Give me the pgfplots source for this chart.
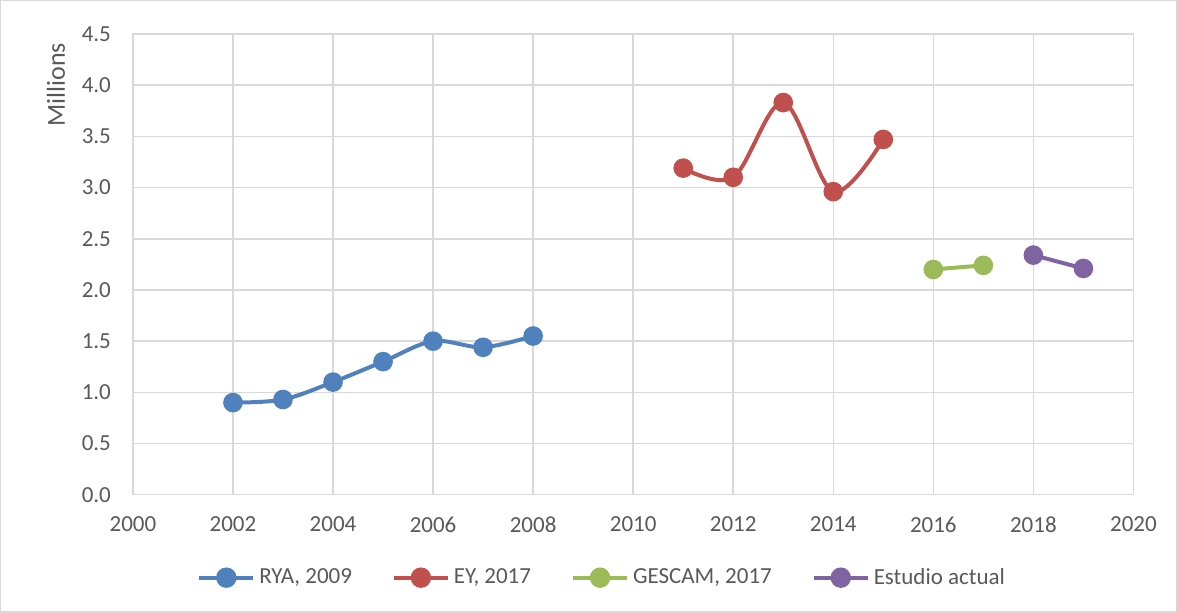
\documentclass[border=0pt]{standalone}
\usepackage{fontspec}
\setmainfont{Carlito}
\usepackage{pgfplots}
\pgfplotsset{compat=1.18}
\definecolor{cblue}{HTML}{4F81BD}
\definecolor{cred}{HTML}{C0504D}
\definecolor{cgreen}{HTML}{9BBB59}
\definecolor{cpurple}{HTML}{8064A2}
\definecolor{cgrid}{HTML}{D9D9D9}
\definecolor{ctext}{HTML}{595959}
\begin{document}
\begin{tikzpicture}
\begin{axis}[
  at={(0,0)}, anchor=origin,
  scale only axis, width=500.5pt, height=230.5pt,
  xmin=2000, xmax=2020, ymin=0, ymax=4.5,
  xtick={2000,2002,...,2020}, ytick={0,0.5,...,4.5},
  /pgf/number format/assume math mode=true,
  xticklabel style={/pgf/number format/1000 sep={}, font=\fontsize{11.5}{13}\selectfont, text=ctext, yshift=-7.5pt},
  yticklabel style={/pgf/number format/fixed, /pgf/number format/fixed zerofill, /pgf/number format/precision=1, font=\fontsize{11.5}{13}\selectfont, text=ctext, xshift=-7.5pt},
  major tick length=0pt,
  grid=major, grid style={cgrid, line width=0.75pt},
  axis line style={cgrid, line width=0.75pt},
  ylabel={Millions}, ylabel style={font=\fontsize{13}{15}\selectfont, text=ctext, at={(axis description cs:-0.077,0.89)}, anchor=center},
  legend columns=4,
  legend style={at={(axis description cs:0.47,-0.18)}, anchor=center, draw=none, font=\fontsize{11.5}{13}\selectfont, text=ctext,
    /tikz/every even column/.append style={column sep=18pt}, /tikz/every odd column/.append style={column sep=0pt},
    nodes={inner xsep=2pt}},
  legend image code/.code={\draw[#1, mark=none] (0pt,0pt) -- (27pt,0pt); \fill[#1] (13.5pt,0pt) circle (4.1pt);},
  every axis plot/.append style={line width=2pt, mark=*, mark size=3.9pt, smooth, tension=0.55},
]
\addplot[cblue, mark options={fill=cblue, draw=cblue}] coordinates {(2002,0.90) (2003,0.93) (2004,1.10) (2005,1.30) (2006,1.50) (2007,1.44) (2008,1.55)};
\addlegendentry{RYA, 2009}
\addplot[cred, mark options={fill=cred, draw=cred}] coordinates {(2011,3.19) (2012,3.10) (2013,3.83) (2014,2.96) (2015,3.47)};
\addlegendentry{EY, 2017}
\addplot[cgreen, mark options={fill=cgreen, draw=cgreen}] coordinates {(2016,2.20) (2017,2.24)};
\addlegendentry{GESCAM, 2017}
\addplot[cpurple, mark options={fill=cpurple, draw=cpurple}] coordinates {(2018,2.34) (2019,2.21)};
\addlegendentry{Estudio actual}
\end{axis}
\draw[cgrid, line width=0.6pt] (-66.2pt,-58.7pt) rectangle (522pt,247.2pt);
\end{tikzpicture}
\end{document}
